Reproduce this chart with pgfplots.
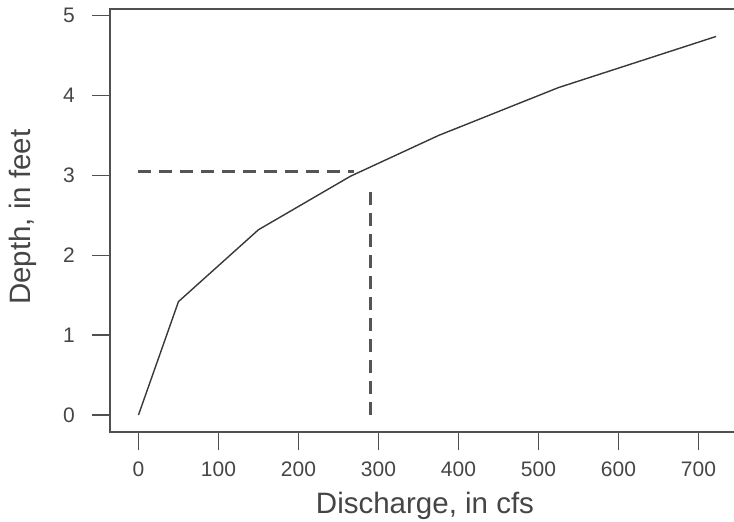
\documentclass[border=0pt]{standalone}
\usepackage{fontspec}
\setmainfont{Liberation Sans}
\usepackage{pgfplots}
\pgfplotsset{compat=1.18}
\definecolor{txt}{HTML}{454545}
\definecolor{axc}{HTML}{505050}
\definecolor{crv}{HTML}{383838}
\definecolor{dsh}{HTML}{555555}
\begin{document}
\begin{tikzpicture}
\begin{axis}[
  name=ax,
  scale only axis,
  width=630pt, height=423pt,
  xmin=-35.6, xmax=751.9,
  ymin=-0.213, ymax=5.084,
  axis line style={axc, line width=1.4pt},
  tick style={axc, line width=1.4pt},
  tick align=outside,
  major tick length=18pt,
  xtick={0,100,...,700},
  ytick={0,1,2,3,4,5},
  xtick pos=bottom, ytick pos=left,
  /pgf/number format/assume math mode=true,
  xticklabel style={font=\fontsize{21}{25}\selectfont, text=txt, inner sep=0pt, anchor=north, yshift=-12pt},
  yticklabel style={font=\fontsize{21}{25}\selectfont, text=txt, inner sep=0pt, anchor=east, xshift=-17pt},
  xlabel={Discharge, in cfs},
  ylabel={Depth, in feet},
  every axis x label/.style={at={(axis description cs:0.5,-0.1915)}, anchor=base,
    font=\fontsize{29.5}{34}\selectfont, text=txt, inner sep=0pt},
  every axis y label/.style={at={(axis description cs:-0.1381,0.508)}, anchor=center, rotate=90,
    font=\fontsize{29.5}{34}\selectfont, text=txt, inner sep=0pt},
  clip=false,
]
\addplot[crv, line width=1.4pt] coordinates {
  (0,0) (50,1.42) (150,2.32) (265,2.99) (375,3.5) (525,4.1) (722,4.74)
};
\addplot[dsh, line width=2.4pt, dash pattern=on 13pt off 8pt] coordinates {
  (0,3.05) (270,3.05)
};
\addplot[dsh, line width=3pt, dash pattern=on 13pt off 8pt] coordinates {
  (290.6,0) (290.6,2.88)
};
\end{axis}
\pgfresetboundingbox
\path ([shift={(-110pt,-89pt)}]ax.south west) rectangle ([shift={(-6pt,9pt)}]ax.north east);
\end{tikzpicture}
\end{document}
